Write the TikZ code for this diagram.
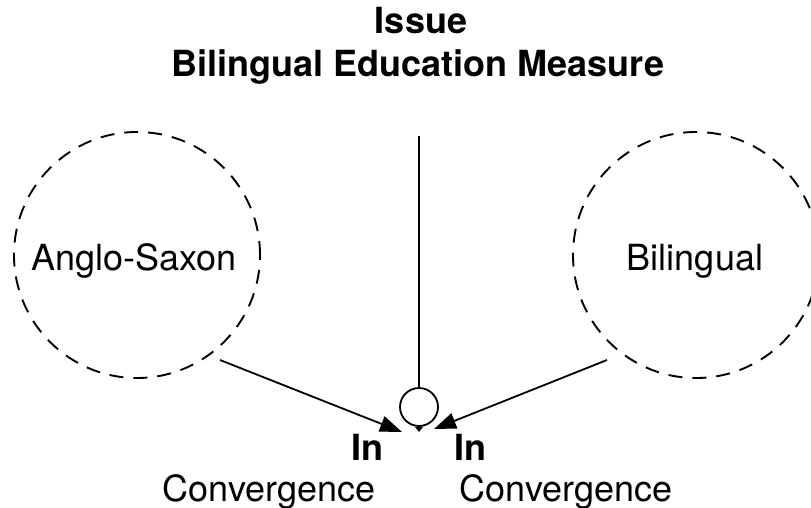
\documentclass[tikz,border=0pt]{standalone}
\usepackage{fontspec}
\setmainfont{TeX Gyre Heros}
\usetikzlibrary{arrows.meta}
\begin{document}
\begin{tikzpicture}[x=1pt,y=-1pt,
  bigfont/.style={font=\fontsize{36}{40}\selectfont},
  ring/.style={circle,draw,dashed,dash pattern=on 14pt off 10pt,line width=1.9pt,minimum size=246pt,inner sep=0pt},
  txt/.style={bigfont,anchor=base,inner sep=0pt},
  bold/.style={font=\fontsize{36}{40}\selectfont\bfseries,anchor=base,inner sep=0pt},
  conn/.style={line width=1.8pt},
  arr/.style={conn,-{Triangle[length=22pt,width=16pt]}}]
\path[use as bounding box] (0,0) rectangle (811,508);
\clip (0,0) rectangle (811,508);
% title
\node[bold] (t1) at (421,34) {Issue};
\node[bold] (t2) at (418,77) {Bilingual Education Measure};
% circles
\node[ring] (ang) at (137,255) {};
\node[ring] (bil) at (696,255) {};
\node[txt] (angt) at (134,270) {Anglo-Saxon};
\node[txt] (bilt) at (695,270) {Bilingual};
% hub
\node[circle,draw,line width=1.8pt,minimum size=38pt,inner sep=0pt] (hub) at (419,407) {};
\coordinate (top) at (419,136);
\draw[conn] (top) -- (hub.north);
\fill (hub.south) ++(-4,0) -- ++(8,0) -- ++(-4,5) -- cycle;
% arrows
\coordinate (ls) at (220,360);
\coordinate (le) at (402,432);
\coordinate (rs) at (607,360);
\coordinate (re) at (434,429);
\draw[arr] (ls) -- (le);
\draw[arr] (rs) -- (re);
% labels
\node[bold] (in1) at (367,460) {In};
\node[bold] (in2) at (470,460) {In};
\node[txt] (c1) at (269,501) {Convergence};
\node[txt] (c2) at (566,501) {Convergence};
\end{tikzpicture}
\end{document}
